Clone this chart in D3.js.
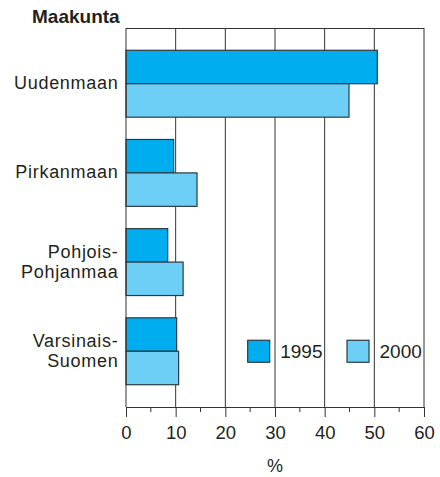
<!DOCTYPE html>
<html>
<head>
<meta charset="utf-8">
<script src="https://cdn.jsdelivr.net/npm/d3@7"></script>
<style>
  body { margin: 0; background: #fff; }
  text { font-family: "Liberation Sans", Arial, sans-serif; fill: #231f20; }
</style>
</head>
<body>
<div id="chart"></div>
<script>
// data
var regions = [["Uudenmaan"], ["Pirkanmaan"], ["Pohjois-", "Pohjanmaa"], ["Varsinais-", "Suomen"]];
var years = ["1995", "2000"];
var values1995 = [50.6, 9.6, 8.4, 10.2];
var values2000 = [44.9, 14.3, 11.5, 10.6];
var xTicks = [0, 10, 20, 30, 40, 50, 60];
var colors = ["#00aeef", "#6dcff6"];

var width = 440, height = 477;
var margin = {top: 28, right: 16, bottom: 70, left: 126};
var plotW = width - margin.left - margin.right;
var plotH = height - margin.top - margin.bottom;

var svg = d3.select("#chart").append("svg")
    .attr("width", width)
    .attr("height", height);

var g = svg.append("g")
    .attr("transform", "translate(" + margin.left + "," + margin.top + ")");

var x = d3.scaleLinear().domain([0, 60]).range([0, plotW]);
var y = d3.scaleBand()
    .domain(d3.range(regions.length))
    .range([0, plotH])
    .paddingInner(0.25)
    .paddingOuter(0.25);
var ySub = d3.scaleBand().domain(years).range([0, y.bandwidth()]);

// grid lines every 10
g.selectAll(".grid")
    .data(xTicks.slice(1))
    .enter().append("line")
    .attr("x1", function(d) { return x(d); })
    .attr("x2", function(d) { return x(d); })
    .attr("y1", 0)
    .attr("y2", plotH)
    .style("stroke", "#333")
    .style("stroke-width", 1);

// top frame line
g.append("line")
    .attr("x1", 0).attr("x2", plotW)
    .attr("y1", 0.5).attr("y2", 0.5)
    .style("stroke", "#333");

// bars
var rows = regions.map(function(r, i) {
    return {i: i, vals: [values1995[i], values2000[i]]};
});
var grp = g.selectAll(".grp")
    .data(rows)
    .enter().append("g")
    .attr("transform", function(d) { return "translate(0," + y(d.i) + ")"; });

grp.selectAll("rect")
    .data(function(d) { return d.vals.map(function(v, k) { return {v: v, k: k}; }); })
    .enter().append("rect")
    .attr("x", x(0))
    .attr("y", function(d) { return ySub(years[d.k]); })
    .attr("width", function(d) { return x(d.v) - x(0); })
    .attr("height", ySub.bandwidth())
    .style("fill", function(d) { return colors[d.k]; })
    .style("stroke", "#2b3a42")
    .style("stroke-width", 1.2);

// left axis line
g.append("line")
    .attr("x1", 0).attr("x2", 0)
    .attr("y1", 0).attr("y2", plotH)
    .style("stroke", "#333");

// category labels
var lab = g.selectAll(".lab")
    .data(rows)
    .enter().append("text")
    .attr("text-anchor", "end")
    .style("font-size", "18px")
    .style("letter-spacing", "0.7px");
lab.each(function(d) {
    var lines = regions[d.i];
    var cy = y(d.i) + y.bandwidth() / 2;
    var t = d3.select(this);
    lines.forEach(function(s, j) {
        t.append("tspan")
            .attr("x", -7.6)
            .attr("y", cy + (j - (lines.length - 1) / 2) * 20)
            .attr("dy", "0.31em")
            .text(s);
    });
});

// x axis
var axis = g.append("g")
    .attr("transform", "translate(0," + plotH + ")")
    .call(d3.axisBottom(x).tickValues(xTicks).tickSize(10).tickPadding(9).tickFormat(d3.format("d")));
axis.select(".domain").attr("d", "M0,0.5H" + plotW).style("stroke", "#333");
axis.selectAll(".tick line").style("stroke", "#333");
axis.selectAll("text")
    .style("font-family", "'Liberation Sans', Arial, sans-serif")
    .style("font-size", "18.5px")
    .style("fill", "#231f20");

// minor ticks at 5s
g.selectAll(".minor")
    .data(d3.range(5, 60, 10))
    .enter().append("line")
    .attr("x1", function(d) { return x(d); })
    .attr("x2", function(d) { return x(d); })
    .attr("y1", plotH)
    .attr("y2", plotH + 5)
    .style("stroke", "#333");

// axis titles
svg.append("text")
    .attr("x", 32).attr("y", 22.5)
    .style("font-size", "19px")
    .style("font-weight", "bold")
    .text("Maakunta");

svg.append("text")
    .attr("x", margin.left + x(30)).attr("y", 472)
    .attr("text-anchor", "middle")
    .style("font-size", "18px")
    .text("%");

// legend
var legX = [x(24.5), x(44.5)];
var legY = y(3) + y.bandwidth() / 2;
years.forEach(function(yr, k) {
    var lg = g.append("g").attr("transform", "translate(" + legX[k] + "," + legY + ")");
    lg.append("rect")
        .attr("x", 0).attr("y", -11)
        .attr("width", 22).attr("height", 22)
        .style("fill", colors[k])
        .style("stroke", "#2b3a42")
        .style("stroke-width", 1.2);
    lg.append("text")
        .attr("x", 32.5).attr("y", 0)
        .attr("dy", "0.35em")
        .style("font-size", "19px")
        .text(yr);
});
</script>
</body>
</html>
